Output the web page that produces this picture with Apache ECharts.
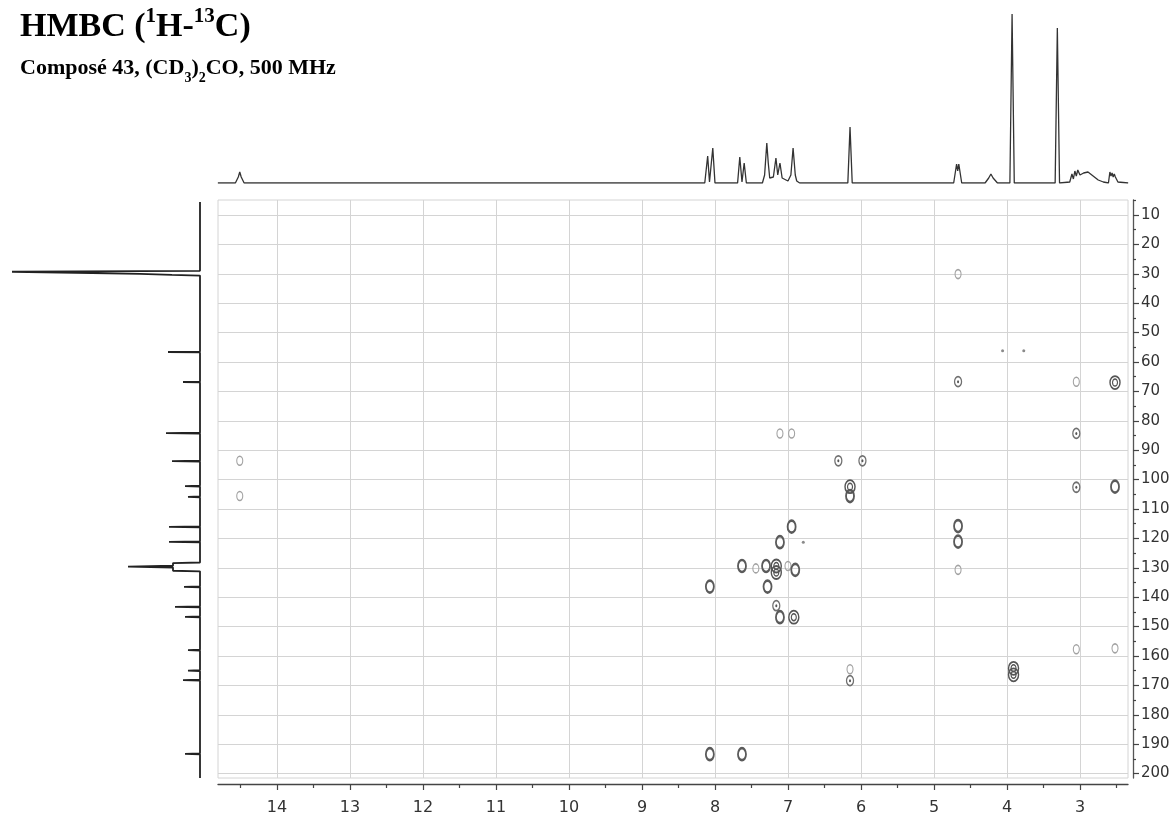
<!DOCTYPE html>
<html><head><meta charset="utf-8">
<script src="https://cdn.jsdelivr.net/npm/echarts@6/dist/echarts.min.js"></script>
<style>html,body{margin:0;padding:0;background:#fff}#c{width:1174px;height:819px}</style>
</head><body><div id="c"></div>
<script>
// ---- tick labels ----
const xTickLabels = [14,13,12,11,10,9,8,7,6,5,4,3];
const xMinorTicks = [14.5,13.5,12.5,11.5,10.5,9.5,8.5,7.5,6.5,5.5,4.5,3.5,2.5];
const yTickLabels = [10,20,30,40,50,60,70,80,90,100,110,120,130,140,150,160,170,180,190,200];
const yMinorTicks = [5,15,25,35,45,55,65,75,85,95,105,115,125,135,145,155,165,175,185,195];

// ---- 1H projection trace: [ppm, intensity] ----
const protonTrace = [
 [14.81,0],[14.57,0],[14.53,6],[14.51,11],[14.49,6],[14.45,0],
 [8.14,0],[8.10,27],[8.075,1],[8.03,35],[8.00,0],
 [7.69,0],[7.66,26],[7.63,1],[7.60,20],[7.57,0],
 [7.35,0],[7.32,8],[7.29,40],[7.27,20],[7.25,5],[7.20,6],[7.165,25],[7.14,8],[7.11,20],[7.08,5],[7.00,2],[6.96,8],[6.93,35],[6.90,8],[6.88,2],[6.84,0],
 [6.18,0],[6.15,56],[6.12,0],
 [4.73,0],[4.69,19],[4.675,12],[4.66,19],[4.62,0],
 [4.30,0],[4.25,5],[4.22,9],[4.19,5],[4.13,0],
 [3.96,0],[3.93,169],[3.90,0],
 [3.34,0],[3.31,155],[3.28,0],
 [3.14,1],[3.11,9],[3.09,4],[3.07,12],[3.05,7],[3.03,13],[3.00,8],[2.95,10],[2.89,11],[2.82,7],[2.75,3],[2.68,1],
 [2.61,0],[2.59,11],[2.575,7],[2.56,10],[2.545,6],[2.53,9],[2.515,6],[2.50,8],[2.48,1],[2.34,0]
];

// ---- 13C projection trace: [ppm, intensity] ----
const carbonTrace = [
 [5.6,0],[29.0,0],[29.1,60],[29.3,188],[29.8,188],[30.0,60],[30.4,28],[30.6,0],
 [56.45,0],[56.6,32],[56.75,0],
 [66.65,0],[66.8,17],[66.95,0],
 [84.05,0],[84.2,34],[84.35,0],
 [93.55,0],[93.7,28],[93.85,0],
 [102.05,0],[102.2,15],[102.35,0],
 [105.75,0],[105.9,12],[106.05,0],
 [115.95,0],[116.1,31],[116.25,0],
 [121.05,0],[121.2,31],[121.35,0],
 [128.2,0],[128.4,27],[128.8,27],[129.3,27],[129.6,72],[129.9,27],[130.5,27],[131.0,27],[131.2,0],
 [136.35,0],[136.5,16],[136.65,0],
 [143.15,0],[143.3,25],[143.45,0],
 [146.55,0],[146.7,15],[146.85,0],
 [157.85,0],[158.0,12],[158.15,0],
 [164.85,0],[165.0,12],[165.15,0],
 [168.05,0],[168.2,17],[168.35,0],
 [193.15,0],[193.3,15],[193.45,0],
 [201.5,0]
];

// ---- HMBC cross peaks ----
const peakH = [7.11,6.95,6.31,5.98,6.15,6.15,6.95,7.11,6.79,7.63,7.44,7.30,7.16,7.16,7.00,6.90,8.07,7.28,7.16,7.11,6.92,6.15,6.15,8.07,7.63,
               4.67,4.06,3.77,4.67,3.05,2.52,3.05,3.05,2.52,4.67,4.67,4.67,3.05,2.52,3.91,3.91,14.51,14.51];
const peakC = [84.3,84.3,93.6,93.6,102.4,105.6,116.0,121.3,121.3,129.4,130.2,129.4,129.4,131.6,129.4,130.7,136.4,136.4,142.9,146.8,146.8,164.5,168.4,193.4,193.4,
               30.1,56.2,56.2,66.7,66.7,67.0,84.3,102.6,102.4,115.8,121.1,130.7,157.7,157.4,164.2,166.4,93.6,105.6];
const peakLevel = [1,1,2,2,4,3,3,3,0,3,1,3,4,4,1,3,3,3,2,3,4,1,2,3,3,
                   1,0,0,2,1,4,2,2,3,3,3,1,1,1,4,4,1,1];

const X_MIN = 2.342, X_MAX = 14.808, Y_MIN = 4.9, Y_MAX = 201.5;

function peaksOf(levels){
  const out=[];
  for(let i=0;i<peakH.length;i++) if(levels.indexOf(peakLevel[i])>=0) out.push([peakH[i],peakC[i]]);
  return out;
}
function ring(levels,size,color,bw,fill){
  return {type:'scatter',xAxisIndex:0,yAxisIndex:0,silent:true,symbol:'circle',symbolSize:size,
    data:peaksOf(levels),z:5,
    itemStyle:{color:fill||'rgba(0,0,0,0)',borderColor:color,borderWidth:bw,opacity:1},
    emphasis:{disabled:true}};
}

const font='DejaVu Sans';
const mainGrid = {left:218,top:200,width:910,height:578};
const chart = echarts.init(document.getElementById('c'),null,{renderer:'canvas'});
chart.setOption({
  animation:false,
  backgroundColor:'#fff',
  title:[
    {text:'{a|HMBC (}{s|1}{a|H-}{s|13}{a|C)}',left:20,top:6,padding:0,
     textStyle:{rich:{
       a:{fontFamily:'Liberation Serif',fontWeight:'bold',fontSize:34,lineHeight:38,color:'#000',verticalAlign:'bottom'},
       s:{fontFamily:'Liberation Serif',fontWeight:'bold',fontSize:21,lineHeight:22,color:'#000',verticalAlign:'top'}}}},
    {text:'{a|Composé 43, (CD}{b|3}{a|)}{b|2}{a|CO, 500 MHz}',left:20,top:57,padding:0,
     textStyle:{rich:{
       a:{fontFamily:'Liberation Serif',fontWeight:'bold',fontSize:22,lineHeight:28,color:'#000',verticalAlign:'top'},
       b:{fontFamily:'Liberation Serif',fontWeight:'bold',fontSize:14,lineHeight:14,color:'#000',verticalAlign:'bottom'}}}}
  ],
  grid:[
    Object.assign({show:true,borderColor:'#d4d4d4',borderWidth:1,backgroundColor:'#fff'},mainGrid),
    {left:218,top:14,width:910,height:169},
    {left:12,top:200,width:188,height:578},
    Object.assign({show:false},mainGrid)
  ],
  xAxis:[
    {gridIndex:0,type:'value',position:'bottom',min:X_MIN,max:X_MAX,inverse:true,splitNumber:12,offset:6,
     axisLine:{show:true,onZero:false,lineStyle:{color:'#444',width:1.3}},
     axisTick:{show:true,customValues:xTickLabels,length:6,lineStyle:{color:'#444',width:1.2}},
     axisLabel:{customValues:xTickLabels,fontFamily:font,fontSize:16,color:'#333',margin:16},
     splitLine:{show:true,lineStyle:{color:'#d4d4d4',width:1}}},
    {gridIndex:3,type:'value',position:'bottom',min:X_MIN,max:X_MAX,inverse:true,offset:6,
     axisLine:{show:false,onZero:false},axisTick:{show:true,customValues:xMinorTicks,length:4,lineStyle:{color:'#444',width:1.2}},
     axisLabel:{show:false},splitLine:{show:false}},
    {gridIndex:1,type:'value',min:X_MIN,max:X_MAX,inverse:true,show:false},
    {gridIndex:2,type:'value',min:0,max:188,inverse:true,show:false}
  ],
  yAxis:[
    {gridIndex:0,type:'value',min:Y_MIN,max:Y_MAX,inverse:true,position:'right',offset:5,splitNumber:20,
     axisLine:{show:true,onZero:false,lineStyle:{color:'#555',width:1.3}},
     axisTick:{show:true,customValues:yTickLabels,length:6,lineStyle:{color:'#444',width:1.2}},
     axisLabel:{customValues:yTickLabels,fontFamily:font,fontSize:15,color:'#333',margin:8},
     splitLine:{show:true,lineStyle:{color:'#d4d4d4',width:1}}},
    {gridIndex:3,type:'value',min:Y_MIN,max:Y_MAX,inverse:true,position:'right',offset:5,
     axisLine:{show:false,onZero:false},axisTick:{show:true,customValues:yMinorTicks,length:3,lineStyle:{color:'#444',width:1.2}},
     axisLabel:{show:false},splitLine:{show:false}},
    {gridIndex:1,type:'value',min:0,max:169,show:false},
    {gridIndex:2,type:'value',min:Y_MIN,max:Y_MAX,inverse:true,show:false}
  ],
  series:[
    {type:'line',xAxisIndex:2,yAxisIndex:2,data:protonTrace,showSymbol:false,silent:true,
     lineStyle:{color:'#333',width:1.3}},
    {type:'line',xAxisIndex:3,yAxisIndex:3,data:carbonTrace.map(p=>[p[1],p[0]]),showSymbol:false,silent:true,
     lineStyle:{color:'#222',width:1.8}},
    ring([0],[3,3],'#888',0,'#8a8a8a'),
    ring([1],[6,9],'#a2a2a2',1.3),
    ring([2],[7,10],'#707070',1.5),
    ring([2],[2,3],'#555',0,'#555'),
    ring([3],[8,12],'#5a5a5a',2.2),
    ring([4],[10,13],'#555',1.6),
    ring([4],[5,7],'#555',1.3)
  ]
});
</script></body></html>
